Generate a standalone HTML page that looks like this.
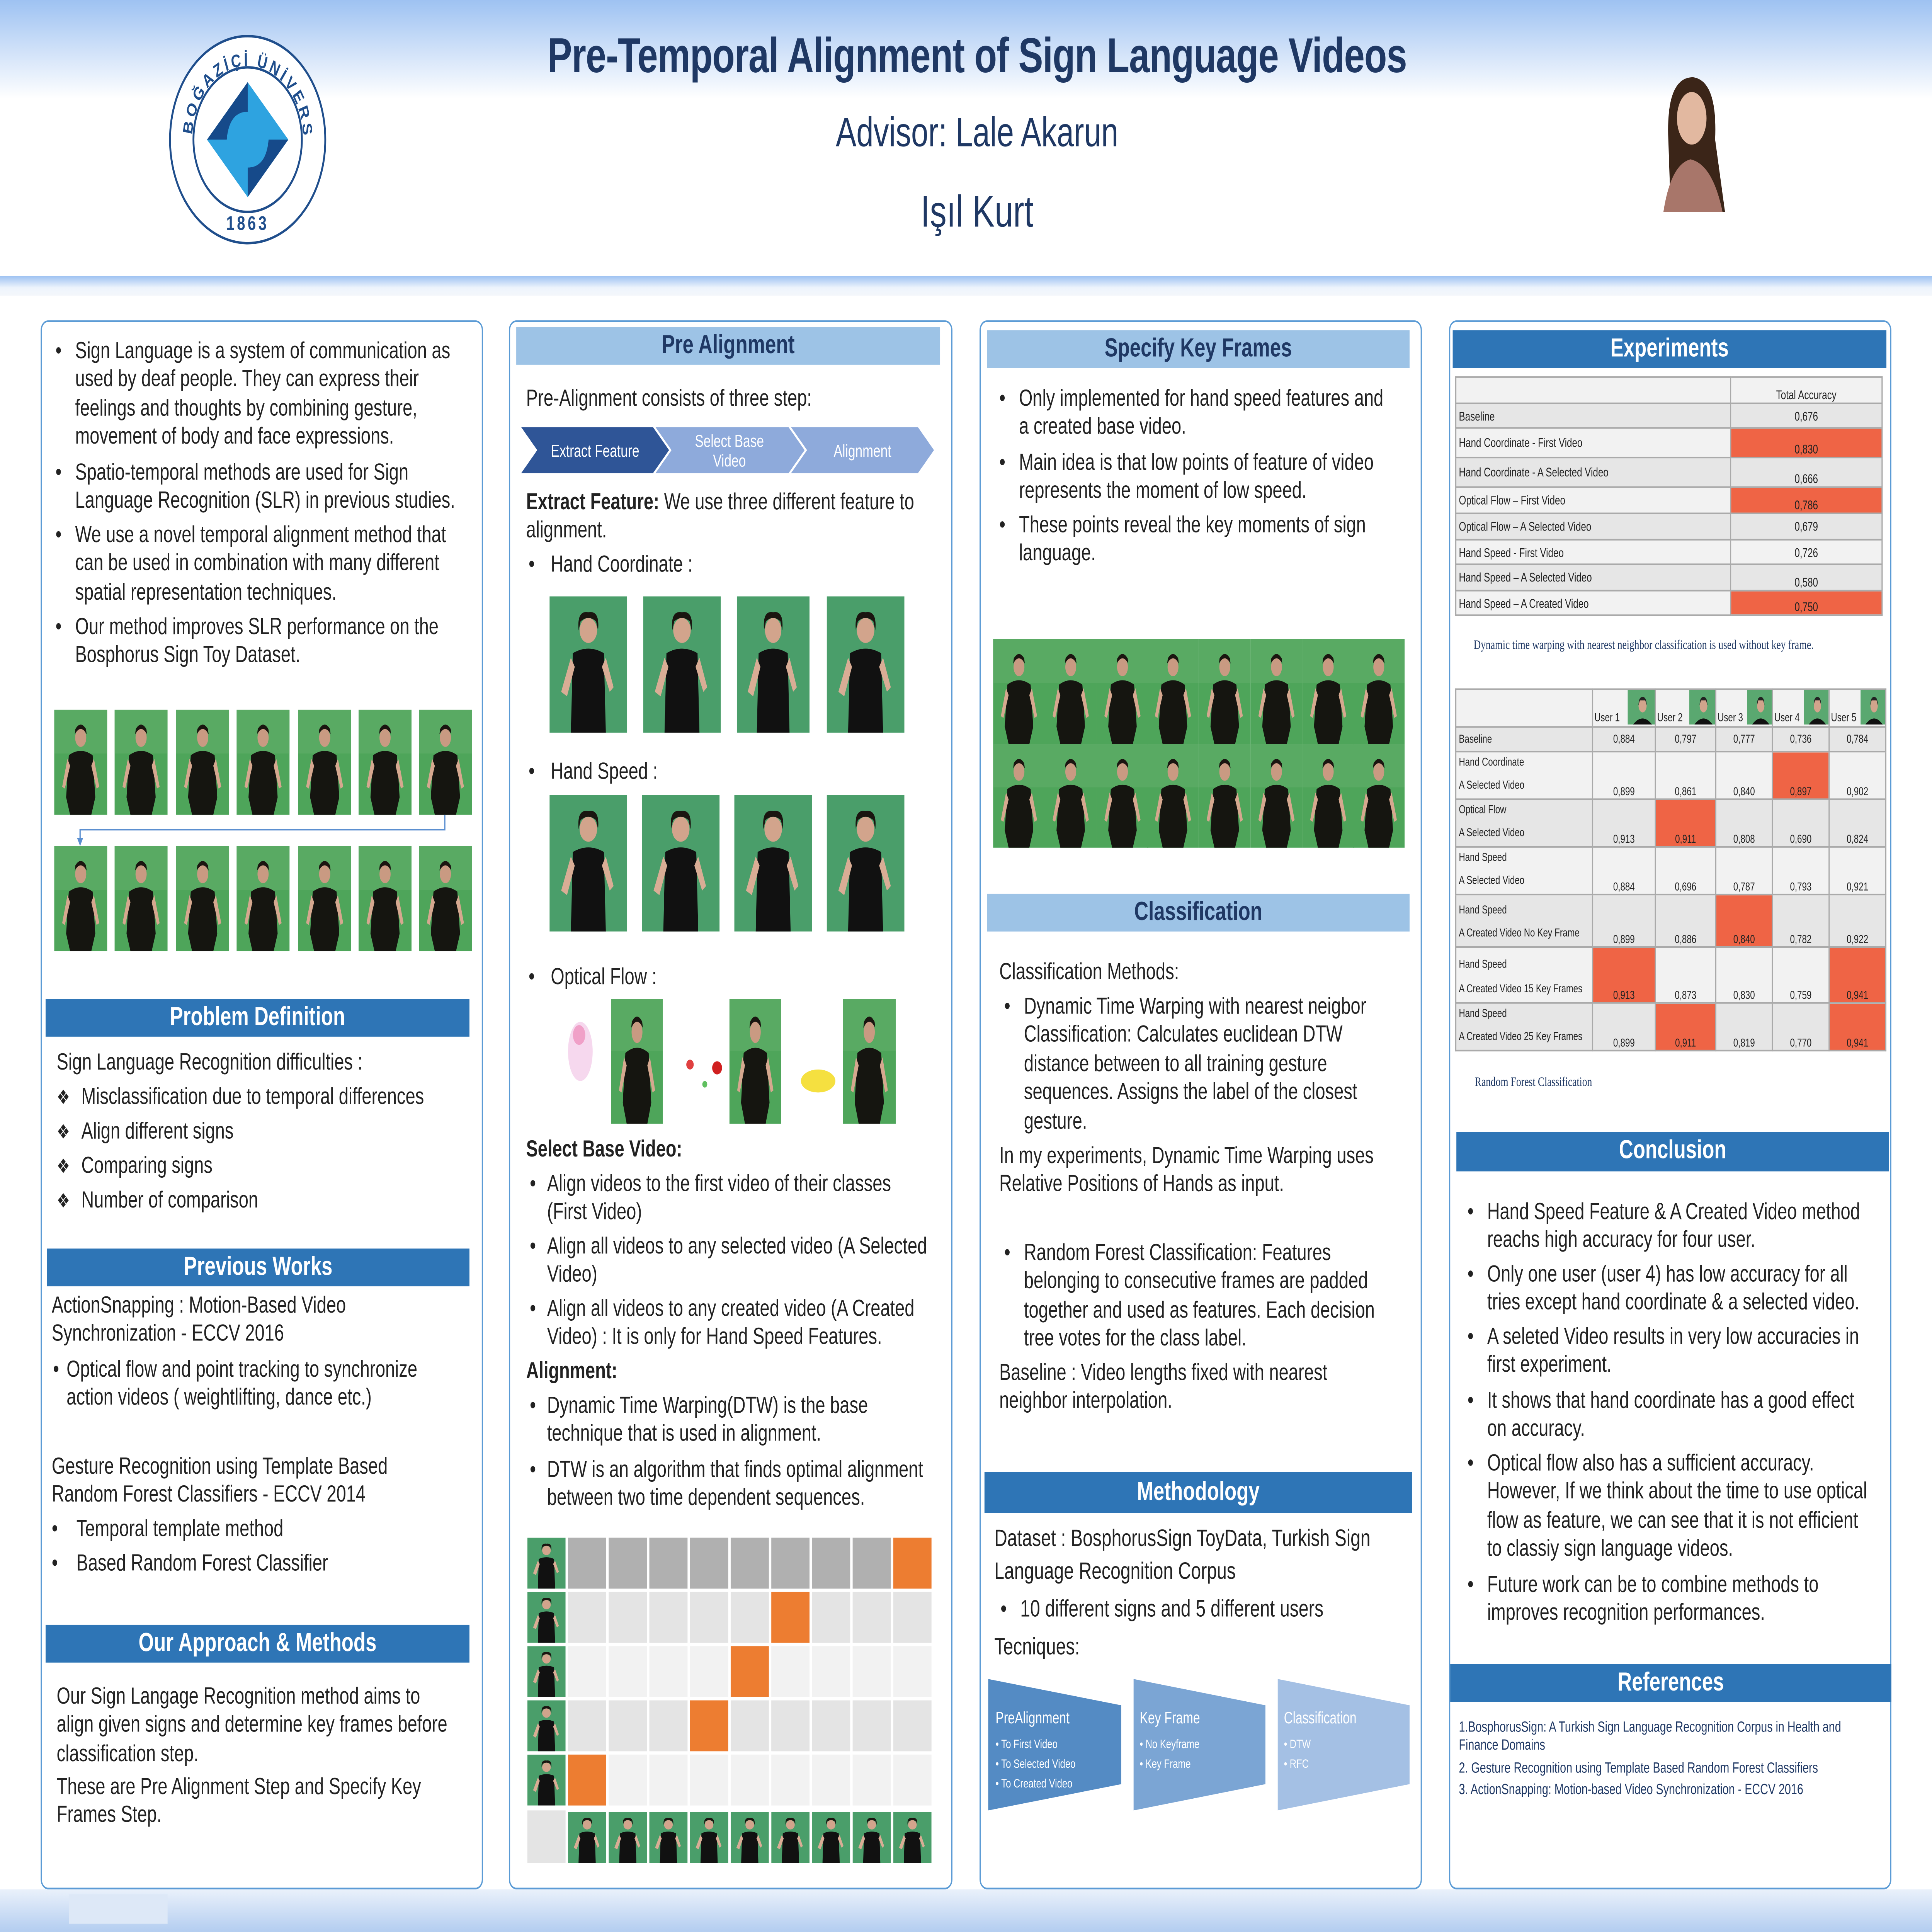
<!DOCTYPE html>
<html><head><meta charset="utf-8">
<style>
html,body{margin:0;padding:0;width:100vw;height:100vh;overflow:hidden;background:#fff}
#root{display:block;width:100vw;height:100vh}
#s{position:relative;width:1568px;height:1176px;font-family:"Liberation Sans","DejaVu Sans",sans-serif;color:#222;background:#fff;overflow:hidden}
.a{position:absolute}
.col{position:absolute;border:1.3px solid #5b9bd5;border-radius:6px;top:195px;height:955px;box-sizing:border-box}
.hd{position:absolute;height:23px;line-height:23px;text-align:center;font-weight:bold;font-size:16px;color:#fff;background:#2e75b6}
.hl{background:#9dc3e6;color:#1f3864}
.t{position:absolute;font-size:14.2px;line-height:17.4px;color:#222;white-space:nowrap}
.bl{position:absolute;left:-16px}
.dm{position:absolute;left:-20px;font-size:12px}
table{border-collapse:collapse;position:absolute;table-layout:fixed;font-size:7.6px;color:#222}
td{border:1.2px solid #aaa;padding:0 2px;white-space:nowrap;overflow:hidden}
.o{background:#ef6445!important}
.r1{background:#e6e6e6}.r2{background:#f2f2f2}
</style></head><body>
<svg id="root" viewBox="0 0 1568 1176" preserveAspectRatio="none">
<defs>
<symbol id="p" viewBox="0 0 40 60" preserveAspectRatio="none">
<rect width="40" height="60" fill="#4ea55a"/><rect width="40" height="25" fill="#63b06c" opacity=".5"/>
<ellipse cx="20" cy="16" rx="4.2" ry="5.2" fill="#c99a82"/><path d="M15.5 14 Q20 8 24.5 14 L24 11 Q20 6 16 11Z" fill="#1a1510"/>
<path d="M11 26 Q20 21 29 26 L31 50 L28 60 L12 60 L9 50Z" fill="#151510"/>
<path d="M10 28 L6 44 L8 45 L12 32Z M30 28 L34 44 L32 45 L28 32Z" fill="#d5a88f"/>
</symbol>
<symbol id="w" viewBox="0 0 40 60" preserveAspectRatio="none">
<rect width="40" height="60" fill="#4a9e6a"/>
<ellipse cx="20" cy="15" rx="4.5" ry="5.5" fill="#d2a48c"/><path d="M15 15 Q14 6 20 7 Q26 6 25 15 L24 11 Q20 8 16 11Z" fill="#1a1510"/>
<path d="M12 25 Q20 21 28 25 L29 60 L11 60Z" fill="#111"/>
<path d="M11 27 L6 42 L9 44 L13 31Z M29 27 L33 40 L31 42 L27 31Z" fill="#d9ad95"/>
</symbol>
<symbol id="f" viewBox="0 0 20 20" preserveAspectRatio="none">
<rect width="20" height="20" fill="#5aa870"/><ellipse cx="11" cy="9" rx="3" ry="4" fill="#d2a48c"/><path d="M8 9 Q8 4 11 4 Q14 4 14 9 L13 6 L9 6Z" fill="#222"/><path d="M4 20 Q11 13 18 20Z" fill="#111"/>
</symbol>
</defs>
<foreignObject x="0" y="0" width="1568" height="1176">
<div xmlns="http://www.w3.org/1999/xhtml" id="s">

<!-- header -->
<div class="a" style="left:0;top:0;width:1568px;height:60px;background:linear-gradient(#9ec2f2,#fff)"></div>
<div class="a" style="left:0;top:168px;width:1568px;height:12px;background:linear-gradient(#9ec2f2,#eef4fc 60%,#f4f7fb)"></div>
<div class="a" style="left:0;top:1150px;width:1568px;height:26px;background:linear-gradient(#eaf1fb,#b3cdf0)"></div>
<div class="a" style="left:56px;top:1153px;width:80px;height:18px;background:#dde8f7"></div>
<svg class="a" style="left:136px;top:20px" width="130" height="130" viewBox="0 0 130 130">
<defs><path id="arc" d="M20 65 A45 45 0 1 1 110 65"/></defs>
<circle cx="65" cy="65" r="63" fill="#fff" stroke="#1f4e8c" stroke-width="1.5"/>
<circle cx="65" cy="65" r="44" fill="#fff" stroke="#1f4e8c" stroke-width="1.5"/>
<path d="M65 30 L98 65 L65 100 L32 65Z" fill="#2ea3e0"/>
<path d="M65 30 L32 65 L48 65 Q50 48 65 48Z" fill="#164a8a"/><path d="M65 100 L98 65 L82 65 Q80 82 65 82Z" fill="#164a8a"/>
<text font-size="11" font-weight="bold" fill="#1f4e8c" font-family="Liberation Sans" letter-spacing="2"><textPath href="#arc" startOffset="2%">BOĞAZİÇİ ÜNİVERSİTESİ</textPath></text>
<text x="65" y="120" text-anchor="middle" font-size="12" font-weight="bold" fill="#1f4e8c" font-family="Liberation Sans" letter-spacing="2">1863</text>
</svg>
<div class="a" style="left:300px;top:18px;width:986px;text-align:center;font-size:30px;font-weight:bold;color:#1f3864;letter-spacing:-0.3px">Pre-Temporal Alignment of Sign Language Videos</div>
<div class="a" style="left:300px;top:67px;width:986px;text-align:center;font-size:25px;color:#1f3864">Advisor: Lale Akarun</div>
<div class="a" style="left:300px;top:114px;width:986px;text-align:center;font-size:27px;color:#1f3864">Işıl Kurt</div>
<svg class="a" style="left:1336px;top:45px" width="70" height="84" viewBox="0 0 70 84">
<path d="M20 84 L18 40 Q16 2 38 2 Q58 4 56 40 L64 84Z" fill="#3b2518"/>
<ellipse cx="37" cy="27" rx="12" ry="16" fill="#e2b8a0"/>
<path d="M14 84 Q20 55 36 52 Q54 55 62 84Z" fill="#a8766a"/>
</svg>

<!-- columns -->
<div class="col" style="left:33px;width:359px"></div>
<div class="col" style="left:413px;width:360px"></div>
<div class="col" style="left:795px;width:359px"></div>
<div class="col" style="left:1176px;width:359px"></div>

<!-- COL 1 -->
<div class="t" style="left:61px;top:206px"><span class="bl">•</span>Sign Language is a system of communication as<br/>used by deaf people. They can express their<br/>feelings and thoughts by combining gesture,<br/>movement of body and face expressions.</div>
<div class="t" style="left:61px;top:280px"><span class="bl">•</span>Spatio-temporal methods are used for Sign<br/>Language Recognition (SLR) in previous studies.</div>
<div class="t" style="left:61px;top:318px"><span class="bl">•</span>We use a novel temporal alignment method that<br/>can be used in combination with many different<br/>spatial representation techniques.</div>
<div class="t" style="left:61px;top:374px"><span class="bl">•</span>Our method improves SLR performance on the<br/>Bosphorus Sign Toy Dataset.</div>
<svg class="a" style="left:0;top:0" width="400" height="600" viewBox="0 0 400 600">
<use href="#p" x="44" y="432" width="43" height="64"/><use href="#p" x="93" y="432" width="43" height="64"/><use href="#p" x="143" y="432" width="43" height="64"/><use href="#p" x="192" y="432" width="43" height="64"/><use href="#p" x="242" y="432" width="43" height="64"/><use href="#p" x="291" y="432" width="43" height="64"/><use href="#p" x="340" y="432" width="43" height="64"/>
<use href="#p" x="44" y="515" width="43" height="64"/><use href="#p" x="93" y="515" width="43" height="64"/><use href="#p" x="143" y="515" width="43" height="64"/><use href="#p" x="192" y="515" width="43" height="64"/><use href="#p" x="242" y="515" width="43" height="64"/><use href="#p" x="291" y="515" width="43" height="64"/><use href="#p" x="340" y="515" width="43" height="64"/>
<path d="M361 496 V505 H65 V513" fill="none" stroke="#5b8fd0" stroke-width="1"/>
<path d="M62.5 510 L65 515 L67.5 510Z" fill="#5b8fd0"/>
</svg>
<div class="hd" style="left:37px;top:608px;width:344px">Problem Definition</div>
<div class="t" style="left:46px;top:639px">Sign Language Recognition difficulties :</div>
<div class="t" style="left:66px;top:660px"><span class="dm">❖</span>Misclassification due to temporal differences</div>
<div class="t" style="left:66px;top:681px"><span class="dm">❖</span>Align different signs</div>
<div class="t" style="left:66px;top:702px"><span class="dm">❖</span>Comparing signs</div>
<div class="t" style="left:66px;top:723px"><span class="dm">❖</span>Number of comparison</div>
<div class="hd" style="left:38px;top:760px;width:343px">Previous Works</div>
<div class="t" style="left:42px;top:787px">ActionSnapping : Motion-Based Video<br/>Synchronization - ECCV 2016</div>
<div class="t" style="left:54px;top:826px"><span class="a" style="left:-11px">•</span>Optical flow and point tracking to synchronize<br/>action videos ( weightlifting, dance etc.)</div>
<div class="t" style="left:42px;top:885px">Gesture Recognition using Template Based<br/>Random Forest Classifiers  - ECCV 2014</div>
<div class="t" style="left:62px;top:923px"><span class="a" style="left:-20px">•</span>Temporal template method</div>
<div class="t" style="left:62px;top:944px"><span class="a" style="left:-20px">•</span>Based Random Forest Classifier</div>
<div class="hd" style="left:37px;top:989px;width:344px">Our Approach &amp; Methods</div>
<div class="t" style="left:46px;top:1025px">Our Sign Langage Recognition method aims to<br/>align given signs and determine key frames before<br/>classification step.</div>
<div class="t" style="left:46px;top:1080px">These are Pre Alignment Step and Specify Key<br/>Frames Step.</div>

<!-- COL 2 -->
<div class="hd hl" style="left:419px;top:199px;width:344px">Pre Alignment</div>
<div class="t" style="left:427px;top:235px">Pre-Alignment consists of three step:</div>
<svg class="a" style="left:0;top:0" width="780" height="300" viewBox="0 0 780 300">
<polygon points="423,260 530,260 543,274 530,288 423,288 436,274" fill="#2f5597"/>
<polygon points="532,260 640,260 653,274 640,288 532,288 545,274" fill="#8eaadb"/>
<polygon points="642,260 745,260 758,274 745,288 642,288 655,274" fill="#8eaadb"/>
<text x="483" y="278" text-anchor="middle" font-size="10.5" fill="#fff" font-family="Liberation Sans">Extract Feature</text>
<text x="592" y="272" text-anchor="middle" font-size="10.5" fill="#fff" font-family="Liberation Sans">Select Base</text>
<text x="592" y="284" text-anchor="middle" font-size="10.5" fill="#fff" font-family="Liberation Sans">Video</text>
<text x="700" y="278" text-anchor="middle" font-size="10.5" fill="#fff" font-family="Liberation Sans">Alignment</text>
</svg>
<div class="t" style="left:427px;top:298px"><b>Extract Feature:</b> We use three different feature to<br/>alignment.</div>
<div class="t" style="left:447px;top:336px"><span class="a" style="left:-18px">•</span>Hand Coordinate :</div>
<div class="t" style="left:447px;top:462px"><span class="a" style="left:-18px">•</span>Hand Speed :</div>
<div class="t" style="left:447px;top:587px"><span class="a" style="left:-18px">•</span>Optical Flow :</div>
<svg class="a" style="left:0;top:0" width="780" height="1176" viewBox="0 0 780 1176">
<use href="#w" x="446" y="363" width="63" height="83"/><use href="#w" x="522" y="363" width="63" height="83"/><use href="#w" x="598" y="363" width="59" height="83"/><use href="#w" x="671" y="363" width="63" height="83"/>
<use href="#w" x="446" y="484" width="63" height="83"/><use href="#w" x="521" y="484" width="63" height="83"/><use href="#w" x="596" y="484" width="63" height="83"/><use href="#w" x="671" y="484" width="63" height="83"/>
<ellipse cx="471" cy="640" rx="10" ry="18" fill="#f6d8ee"/><ellipse cx="470" cy="630" rx="5" ry="6" fill="#f0a0c8"/>
<use href="#p" x="496" y="608" width="42" height="76"/>
<circle cx="560" cy="648" r="3" fill="#e04040"/><circle cx="582" cy="650" r="4" fill="#d02020"/><circle cx="572" cy="660" r="2" fill="#60c060"/>
<use href="#p" x="592" y="608" width="42" height="76"/>
<ellipse cx="664" cy="658" rx="14" ry="7" fill="#f5e040"/>
<use href="#p" x="684" y="608" width="43" height="76"/>
<use href="#w" x="428" y="936" width="31" height="31"/><use href="#w" x="428" y="969" width="31" height="31"/><use href="#w" x="428" y="1002" width="31" height="31"/><use href="#w" x="428" y="1035" width="31" height="31"/><use href="#w" x="428" y="1068" width="31" height="31"/>
<rect x="428" y="1102" width="31" height="32" fill="#e4e4e4"/>
<g fill="#b0b0b0">
<rect x="461" y="936" width="31" height="31"/><rect x="494" y="936" width="31" height="31"/><rect x="527" y="936" width="31" height="31"/><rect x="560" y="936" width="31" height="31"/><rect x="593" y="936" width="31" height="31"/><rect x="626" y="936" width="31" height="31"/><rect x="659" y="936" width="31" height="31"/><rect x="692" y="936" width="31" height="31"/>
</g>
<g fill="#e4e4e4">
<rect x="461" y="969" width="31" height="31"/><rect x="494" y="969" width="31" height="31"/><rect x="527" y="969" width="31" height="31"/><rect x="560" y="969" width="31" height="31"/><rect x="593" y="969" width="31" height="31"/><rect x="659" y="969" width="31" height="31"/><rect x="692" y="969" width="31" height="31"/><rect x="725" y="969" width="31" height="31"/>
<rect x="461" y="1035" width="31" height="31"/><rect x="494" y="1035" width="31" height="31"/><rect x="527" y="1035" width="31" height="31"/><rect x="593" y="1035" width="31" height="31"/><rect x="626" y="1035" width="31" height="31"/><rect x="659" y="1035" width="31" height="31"/><rect x="692" y="1035" width="31" height="31"/><rect x="725" y="1035" width="31" height="31"/>
</g>
<g fill="#f2f2f2">
<rect x="461" y="1002" width="31" height="31"/><rect x="494" y="1002" width="31" height="31"/><rect x="527" y="1002" width="31" height="31"/><rect x="560" y="1002" width="31" height="31"/><rect x="626" y="1002" width="31" height="31"/><rect x="659" y="1002" width="31" height="31"/><rect x="692" y="1002" width="31" height="31"/><rect x="725" y="1002" width="31" height="31"/>
<rect x="494" y="1068" width="31" height="31"/><rect x="527" y="1068" width="31" height="31"/><rect x="560" y="1068" width="31" height="31"/><rect x="593" y="1068" width="31" height="31"/><rect x="626" y="1068" width="31" height="31"/><rect x="659" y="1068" width="31" height="31"/><rect x="692" y="1068" width="31" height="31"/><rect x="725" y="1068" width="31" height="31"/>
</g>
<g fill="#ed7d31">
<rect x="725" y="936" width="31" height="31"/><rect x="626" y="969" width="31" height="31"/><rect x="593" y="1002" width="31" height="31"/><rect x="560" y="1035" width="31" height="31"/><rect x="461" y="1068" width="31" height="31"/>
</g>
<use href="#w" x="461" y="1103" width="31" height="31"/><use href="#w" x="494" y="1103" width="31" height="31"/><use href="#w" x="527" y="1103" width="31" height="31"/><use href="#w" x="560" y="1103" width="31" height="31"/><use href="#w" x="593" y="1103" width="31" height="31"/><use href="#w" x="626" y="1103" width="31" height="31"/><use href="#w" x="659" y="1103" width="31" height="31"/><use href="#w" x="692" y="1103" width="31" height="31"/><use href="#w" x="725" y="1103" width="31" height="31"/>
</svg>
<div class="t" style="left:427px;top:692px"><b>Select Base Video:</b></div>
<div class="t" style="left:444px;top:713px"><span class="a" style="left:-14px">•</span>Align videos to the first video of their classes<br/>(First Video)</div>
<div class="t" style="left:444px;top:751px"><span class="a" style="left:-14px">•</span>Align all videos to any selected video (A Selected<br/>Video)</div>
<div class="t" style="left:444px;top:789px"><span class="a" style="left:-14px">•</span>Align all videos to any created video (A Created<br/>Video) : It is only for Hand Speed Features.</div>
<div class="t" style="left:427px;top:827px"><b>Alignment:</b></div>
<div class="t" style="left:444px;top:848px"><span class="a" style="left:-14px">•</span>Dynamic Time Warping(DTW) is the base<br/>technique that is used in alignment.</div>
<div class="t" style="left:444px;top:887px"><span class="a" style="left:-14px">•</span>DTW is an algorithm that finds optimal alignment<br/>between two time dependent sequences.</div>

<!-- COL 3 -->
<div class="hd hl" style="left:801px;top:201px;width:343px">Specify Key Frames</div>
<div class="t" style="left:827px;top:235px"><span class="a" style="left:-16px">•</span>Only implemented for hand speed features and<br/>a created base video.</div>
<div class="t" style="left:827px;top:274px"><span class="a" style="left:-16px">•</span>Main idea is that low points of feature of video<br/>represents the moment of low speed.</div>
<div class="t" style="left:827px;top:312px"><span class="a" style="left:-16px">•</span>These points reveal the key moments of sign<br/>language.</div>
<svg class="a" style="left:0;top:0" width="1160" height="1176" viewBox="0 0 1160 1176">
<use href="#p" x="806" y="389" width="42" height="64"/><use href="#p" x="848" y="389" width="42" height="64"/><use href="#p" x="890" y="389" width="42" height="64"/><use href="#p" x="931" y="389" width="42" height="64"/><use href="#p" x="973" y="389" width="42" height="64"/><use href="#p" x="1015" y="389" width="42" height="64"/><use href="#p" x="1057" y="389" width="42" height="64"/><use href="#p" x="1098" y="389" width="42" height="64"/>
<use href="#p" x="806" y="453" width="42" height="63"/><use href="#p" x="848" y="453" width="42" height="63"/><use href="#p" x="890" y="453" width="42" height="63"/><use href="#p" x="931" y="453" width="42" height="63"/><use href="#p" x="973" y="453" width="42" height="63"/><use href="#p" x="1015" y="453" width="42" height="63"/><use href="#p" x="1057" y="453" width="42" height="63"/><use href="#p" x="1098" y="453" width="42" height="63"/>
<polygon points="802,1022 910,1038 910,1086 802,1102" fill="#548bc4"/>
<polygon points="920,1022 1027,1038 1027,1086 920,1102" fill="#7ba5d4"/>
<polygon points="1037,1022 1144,1038 1144,1086 1037,1102" fill="#a4c0e4"/>
<g fill="#fff" font-family="Liberation Sans">
<text x="808" y="1049" font-size="10">PreAlignment</text>
<text x="808" y="1064" font-size="7.5">•  To First Video</text><text x="808" y="1076" font-size="7.5">•  To Selected Video</text><text x="808" y="1088" font-size="7.5">•  To Created Video</text>
<text x="925" y="1049" font-size="10">Key Frame</text>
<text x="925" y="1064" font-size="7.5">•  No Keyframe</text><text x="925" y="1076" font-size="7.5">•  Key Frame</text>
<text x="1042" y="1049" font-size="10">Classification</text>
<text x="1042" y="1064" font-size="7.5">•  DTW</text><text x="1042" y="1076" font-size="7.5">•  RFC</text>
</g>
</svg>
<div class="hd hl" style="left:801px;top:544px;width:343px">Classification</div>
<div class="t" style="left:811px;top:584px">Classification Methods:</div>
<div class="t" style="left:831px;top:605px"><span class="a" style="left:-16px">•</span>Dynamic Time Warping with nearest neigbor<br/>Classification: Calculates euclidean DTW<br/>distance between to all training gesture<br/>sequences. Assigns the label of the closest<br/>gesture.</div>
<div class="t" style="left:811px;top:696px">In my experiments, Dynamic Time Warping uses<br/>Relative Positions of Hands as input.</div>
<div class="t" style="left:831px;top:755px"><span class="a" style="left:-16px">•</span>Random Forest Classification: Features<br/>belonging to consecutive frames are padded<br/>together and used as features. Each decision<br/>tree votes for the class label.</div>
<div class="t" style="left:811px;top:828px">Baseline : Video lengths fixed with nearest<br/>neighbor interpolation.</div>
<div class="hd" style="left:799px;top:896px;width:347px;height:25px;line-height:25px">Methodology</div>
<div class="t" style="left:807px;top:927px;line-height:20px;font-size:14.5px">Dataset : BosphorusSign ToyData, Turkish Sign<br/>Language Recognition Corpus</div>
<div class="t" style="left:828px;top:970px;line-height:20px;font-size:14.5px"><span class="a" style="left:-16px">•</span>10 different signs and 5 different users</div>
<div class="t" style="left:807px;top:993px;line-height:20px;font-size:14.5px">Tecniques:</div>

<!-- COL 4 -->
<div class="hd" style="left:1179px;top:201px;width:352px">Experiments</div>
<table style="left:1181px;top:229px;width:346px">
<col style="width:223px"/><col style="width:123px"/>
<tr class="r2" style="height:16px"><td></td><td style="text-align:center;vertical-align:bottom">Total Accuracy</td></tr>
<tr class="r1" style="height:15px"><td>Baseline</td><td style="text-align:center">0,676</td></tr>
<tr class="r2" style="height:18px"><td>Hand Coordinate - First Video</td><td class="o" style="text-align:center;vertical-align:bottom">0,830</td></tr>
<tr class="r1" style="height:18px"><td>Hand Coordinate - A Selected Video</td><td style="text-align:center;vertical-align:bottom">0,666</td></tr>
<tr class="r2" style="height:16px"><td>Optical Flow – First Video</td><td class="o" style="text-align:center;vertical-align:bottom">0,786</td></tr>
<tr class="r1" style="height:16px"><td>Optical Flow – A Selected Video</td><td style="text-align:center">0,679</td></tr>
<tr class="r2" style="height:15px"><td>Hand Speed - First Video</td><td style="text-align:center">0,726</td></tr>
<tr class="r1" style="height:16px"><td>Hand Speed – A Selected Video</td><td style="text-align:center;vertical-align:bottom">0,580</td></tr>
<tr class="r2" style="height:15px"><td>Hand Speed – A Created Video</td><td class="o" style="text-align:center;vertical-align:bottom">0,750</td></tr>
</table>
<div class="a" style="left:1196px;top:388px;font-family:'Liberation Serif',serif;font-size:8px;color:#1f3864">Dynamic time warping with nearest neighbor classification is used without key frame.</div>
<table style="left:1181px;top:419px;width:349px;font-size:7px">
<col style="width:111px"/><col style="width:51px"/><col style="width:49px"/><col style="width:46px"/><col style="width:46px"/><col style="width:46px"/>
<tr class="r2" style="height:23px"><td></td>
<td style="position:relative;padding:0"><span class="a" style="left:1px;bottom:1px">User 1</span><svg class="a" style="right:0;top:0" width="22" height="21"><use href="#f" width="22" height="21"/></svg></td>
<td style="position:relative;padding:0"><span class="a" style="left:1px;bottom:1px">User 2</span><svg class="a" style="right:0;top:0" width="21" height="21"><use href="#f" width="21" height="21"/></svg></td>
<td style="position:relative;padding:0"><span class="a" style="left:1px;bottom:1px">User 3</span><svg class="a" style="right:0;top:0" width="20" height="21"><use href="#f" width="20" height="21"/></svg></td>
<td style="position:relative;padding:0"><span class="a" style="left:1px;bottom:1px">User 4</span><svg class="a" style="right:0;top:0" width="20" height="21"><use href="#f" width="20" height="21"/></svg></td>
<td style="position:relative;padding:0"><span class="a" style="left:1px;bottom:1px">User 5</span><svg class="a" style="right:0;top:0" width="20" height="21"><use href="#f" width="20" height="21"/></svg></td></tr>
<tr class="r1" style="height:15px;text-align:center"><td style="text-align:left">Baseline</td><td>0,884</td><td>0,797</td><td>0,777</td><td>0,736</td><td>0,784</td></tr>
<tr class="r2" style="height:29px;text-align:center;vertical-align:bottom"><td style="text-align:left;line-height:14px">Hand Coordinate<br/>A Selected Video</td><td>0,899</td><td>0,861</td><td>0,840</td><td class="o">0,897</td><td>0,902</td></tr>
<tr class="r1" style="height:29px;text-align:center;vertical-align:bottom"><td style="text-align:left;line-height:14px">Optical Flow<br/>A Selected Video</td><td>0,913</td><td class="o">0,911</td><td>0,808</td><td>0,690</td><td>0,824</td></tr>
<tr class="r2" style="height:28px;text-align:center;vertical-align:bottom"><td style="text-align:left;line-height:14px">Hand Speed<br/>A Selected Video</td><td>0,884</td><td>0,696</td><td>0,787</td><td>0,793</td><td>0,921</td></tr>
<tr class="r1" style="height:32px;text-align:center;vertical-align:bottom"><td style="text-align:left;line-height:14px">Hand Speed<br/>A Created Video No Key Frame</td><td>0,899</td><td>0,886</td><td class="o">0,840</td><td>0,782</td><td>0,922</td></tr>
<tr class="r2" style="height:34px;text-align:center;vertical-align:bottom"><td style="text-align:left;line-height:15px">Hand Speed<br/>A Created Video 15 Key Frames</td><td class="o">0,913</td><td>0,873</td><td>0,830</td><td>0,759</td><td class="o">0,941</td></tr>
<tr class="r1" style="height:29px;text-align:center;vertical-align:bottom"><td style="text-align:left;line-height:14px">Hand Speed<br/>A Created Video 25 Key Frames</td><td>0,899</td><td class="o">0,911</td><td>0,819</td><td>0,770</td><td class="o">0,941</td></tr>
</table>
<div class="a" style="left:1197px;top:654px;font-family:'Liberation Serif',serif;font-size:8px;color:#1f3864">Random Forest Classification</div>
<div class="hd" style="left:1182px;top:689px;width:351px;height:24px;line-height:24px">Conclusion</div>
<div class="t" style="left:1207px;top:730px"><span class="a" style="left:-16px">•</span>Hand Speed Feature &amp; A Created Video method<br/>reachs high accuracy for four user.</div>
<div class="t" style="left:1207px;top:768px"><span class="a" style="left:-16px">•</span>Only one user (user 4) has low accuracy for all<br/>tries except hand coordinate &amp; a selected video.</div>
<div class="t" style="left:1207px;top:806px"><span class="a" style="left:-16px">•</span>A seleted Video results in very low accuracies in<br/>first experiment.</div>
<div class="t" style="left:1207px;top:845px"><span class="a" style="left:-16px">•</span>It shows that hand coordinate has a good effect<br/>on accuracy.</div>
<div class="t" style="left:1207px;top:883px"><span class="a" style="left:-16px">•</span>Optical flow also has a sufficient accuracy.<br/>However, If we think about the time to use optical<br/>flow as feature, we can see that it is not efficient<br/>to classiy sign language videos.</div>
<div class="t" style="left:1207px;top:957px"><span class="a" style="left:-16px">•</span>Future work can be to combine methods to<br/>improves recognition performances.</div>
<div class="hd" style="left:1177px;top:1013px;width:358px">References</div>
<div class="a" style="left:1184px;top:1046px;font-size:9px;line-height:10.5px;color:#1f3864;white-space:nowrap">1.BosphorusSign: A Turkish Sign Language Recognition Corpus in Health and<br/>Finance Domains</div>
<div class="a" style="left:1184px;top:1071px;font-size:9px;line-height:10.5px;color:#1f3864;white-space:nowrap">2. Gesture Recognition using Template Based Random Forest Classifiers</div>
<div class="a" style="left:1184px;top:1084px;font-size:9px;line-height:10.5px;color:#1f3864;white-space:nowrap">3. ActionSnapping: Motion-based Video Synchronization - ECCV 2016</div>
</div>
</foreignObject>
</svg>
</body></html>
